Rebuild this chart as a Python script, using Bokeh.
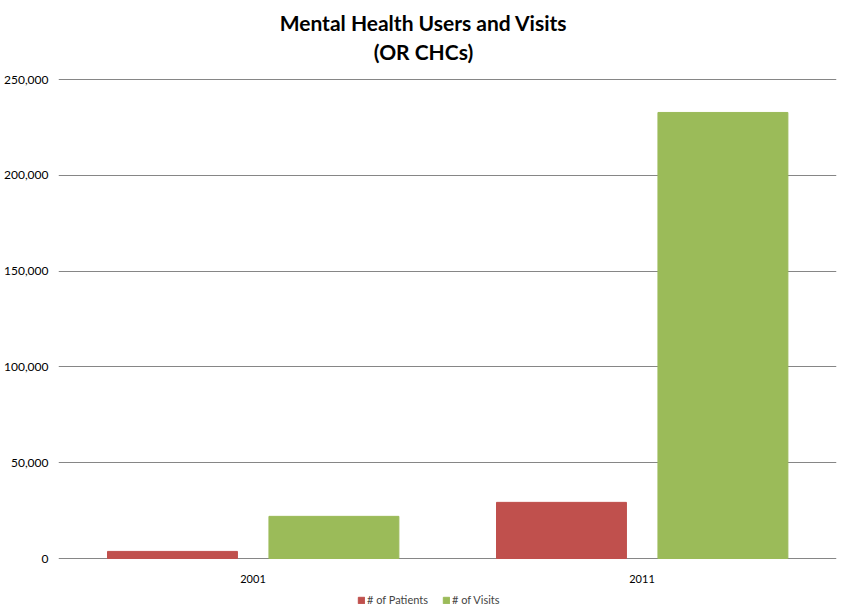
from bokeh.plotting import figure
from bokeh.models import (ColumnDataSource, FactorRange, Range1d, Legend, LegendItem,
                          Label, NumeralTickFormatter, FixedTicker)
from bokeh.core.properties import value
from bokeh.transform import dodge
from bokeh.embed import file_html
from bokeh.resources import INLINE

years = ["2001", "2011"]
patients = [3700, 29300]
visits = [22000, 232800]
series_names = ["# of Patients", "# of Visits"]
colors = ["#C0504D", "#9BBB59"]
y_ticks = [0, 50000, 100000, 150000, 200000, 250000]
title_lines = ["Mental Health Users and Visits", "(OR CHCs)"]

# layout: plot area (0..250,000) spans 479 px, 79 px above it, 58 px below it
units_per_px = 250000 / 479
y_lo = -58 * units_per_px
y_hi = 250000 + 79 * units_per_px

source = ColumnDataSource(data=dict(years=years, patients=patients, visits=visits))

p = figure(x_range=FactorRange(*years, range_padding=0), y_range=Range1d(y_lo, y_hi),
           width=846, height=616, frame_width=778, frame_height=616,
           x_axis_location=None,
           output_backend="svg", toolbar_location=None,
           min_border_left=58, min_border_right=10, min_border_top=0, min_border_bottom=0)
p.title = None

# title lines (screen units relative to the frame's bottom-left corner)
for i, line in enumerate(title_lines):
    p.add_layout(Label(x=365, y=594 - i * 29, x_units="screen", y_units="screen",
                       text=line, text_align="center", text_baseline="middle",
                       text_font="Lato", text_font_size="21px", text_font_style="bold",
                       text_color="#000000"))

r1 = p.vbar(x=dodge("years", -0.207, range=p.x_range), top="patients", width=0.334,
            source=source, fill_color=colors[0], line_color=colors[0])
r2 = p.vbar(x=dodge("years", 0.208, range=p.x_range), top="visits", width=0.334,
            source=source, fill_color=colors[1], line_color=colors[1])

# category labels under the baseline
p.text(x="years", y=0, text="years", source=source, y_offset=20,
       text_align="center", text_baseline="middle",
       text_font=value("Lato"), text_font_size="11px", text_color="#000000")

p.yaxis.ticker = FixedTicker(ticks=y_ticks)
p.yaxis.formatter = NumeralTickFormatter(format="0,0")
p.yaxis.axis_line_color = None
p.yaxis.major_tick_line_color = None
p.yaxis.minor_tick_line_color = None
p.yaxis.major_tick_out = 0
p.yaxis.major_tick_in = 0
p.yaxis.minor_tick_out = 0
p.yaxis.major_label_text_font = "Lato"
p.yaxis.major_label_text_font_size = "12px"
p.yaxis.major_label_text_color = "#000000"
p.yaxis.major_label_standoff = 10

p.xgrid.grid_line_color = None
p.ygrid.grid_line_color = "#868686"
p.ygrid.ticker = FixedTicker(ticks=y_ticks)
p.outline_line_color = None

legend = Legend(items=[LegendItem(label=series_names[0], renderers=[r1]),
                       LegendItem(label=series_names[1], renderers=[r2])],
                orientation="horizontal", location=(299, 10),
                label_text_font="Lato", label_text_font_size="11px",
                glyph_width=8, glyph_height=8, label_standoff=2, spacing=14,
                padding=0, margin=0, border_line_color=None, background_fill_alpha=0,
                label_height=12)
p.add_layout(legend, "center")

open("out.html", "w").write(file_html(p, INLINE))
